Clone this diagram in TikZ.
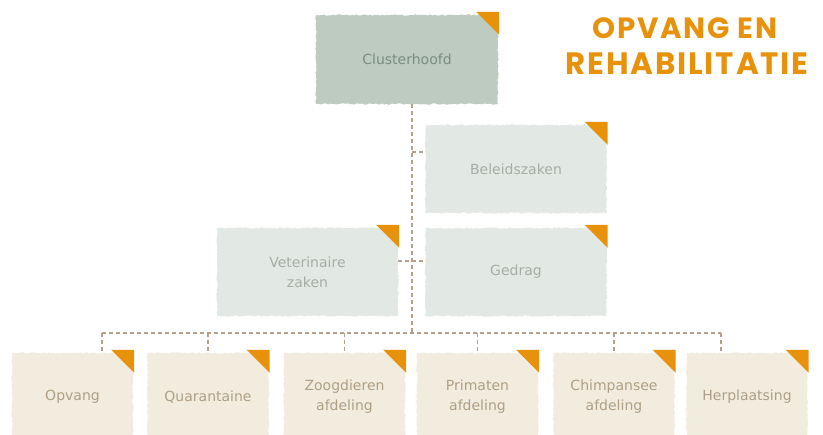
\documentclass[tikz,border=0pt]{standalone}
\usepackage{fontspec}
\setmainfont{DejaVu Sans}
\newfontfamily\titlefont{Poppins}[LetterSpace=6]
\usetikzlibrary{decorations.pathmorphing,calc}
\definecolor{topfill}{HTML}{BDCBC0}
\definecolor{toptext}{HTML}{7A8E80}
\definecolor{midfill}{HTML}{E2E8E3}
\definecolor{midtext}{HTML}{A3AFA6}
\definecolor{botfill}{HTML}{F2ECDF}
\definecolor{bottext}{HTML}{AE9F85}
\definecolor{cornerc}{HTML}{E8920C}
\definecolor{connc}{HTML}{B3A189}
\begin{document}
\begin{tikzpicture}[x=1pt,y=-1pt,
  tornbox/.style={minimum width=181pt, minimum height=88pt, inner sep=0pt, align=center,
    font=\fontsize{14}{20}\selectfont, decorate,
    decoration={random steps,segment length=2pt,amplitude=0.7pt}},
  topbox/.style={tornbox, fill=topfill, text=toptext, minimum height=89pt, minimum width=182pt},
  midbox/.style={tornbox, fill=midfill, text=midtext},
  botbox/.style={tornbox, fill=botfill, text=bottext, minimum width=121pt},
  conn/.style={draw=connc, line width=1.1pt, dash pattern=on 4pt off 3pt},
  titlestyle/.style={text=cornerc, inner sep=0pt}
]
\useasboundingbox (0,0) rectangle (823,435);
\clip (0,0) rectangle (823,435);
\pgfmathsetseed{7}
\fill[white] (0,0) rectangle (823,435);

% boxes
\node[topbox] (top) at (407,59.5) {Clusterhoofd};
\node[midbox] (bel) at (516,169) {Beleidszaken};
\node[midbox] (vet) at (307.5,272) {Veterinaire\\zaken};
\node[midbox] (ged) at (516,272) {Gedrag};
\node[botbox] (op) at (72.5,397) {Opvang};
\node[botbox] (qu) at (208,397) {Quarantaine};
\node[botbox] (zo) at (344.5,397) {Zoogdieren\\afdeling};
\node[botbox] (pr) at (477.5,397) {Primaten\\afdeling};
\node[botbox] (ch) at (614,397) {Chimpansee\\afdeling};
\node[botbox] (he) at (747,397) {Herplaatsing};

% corner triangles
\foreach \n in {top,bel,vet,ged,op,qu,zo,pr,ch,he}{
  \fill[cornerc, shift={(\n.north east)}] (-22,-3) -- (1,-3) -- (1,20) -- cycle;
}

% connectors
\coordinate (tk) at ($(top.south)+(5,0)$);
\coordinate (busL) at (102,333);
\coordinate (busR) at (721,333);
\coordinate (belin) at ($(bel.west)+(0,-17)$);
\coordinate (vin) at ($(vet.east)+(0,-11)$);
\coordinate (gin) at ($(ged.west)+(0,-11)$);
\draw[conn] (tk) -- (tk |- busL);
\draw[conn] (tk |- belin) -- (belin);
\draw[conn] (vin) -- (gin);
\draw[conn] (busL) -- (busR);
\draw[conn] (busL) -- (busL |- op.north);
\draw[conn] (busR) -- (busR |- he.north);
\foreach \n in {qu,zo,pr,ch}{
  \draw[conn] (\n.north |- busL) -- (\n.north);
}

% title
\node[titlestyle] (t1) at (685,28.5) {\resizebox{185pt}{!}{\titlefont\bfseries OPVANG EN}};
\node[titlestyle] (t2) at (687,63.5) {\resizebox{243pt}{!}{\titlefont\bfseries REHABILITATIE}};
\end{tikzpicture}
\end{document}
